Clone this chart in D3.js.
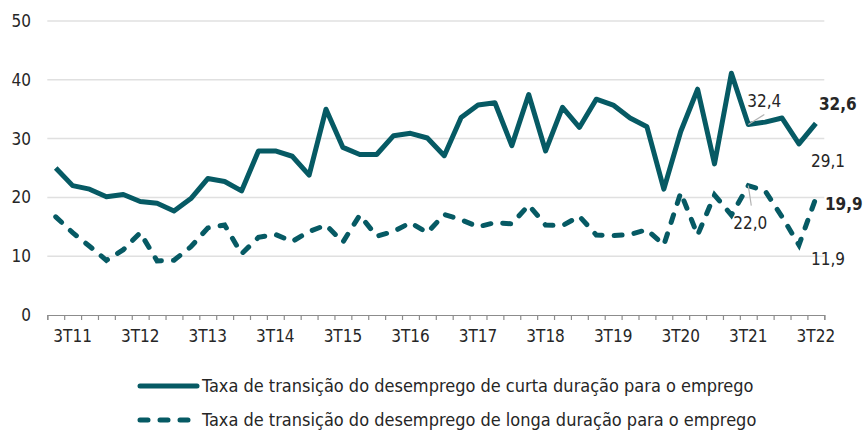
<!DOCTYPE html>
<html>
<head>
<meta charset="utf-8">
<script src="https://cdn.jsdelivr.net/npm/d3@7"></script>
<style>
	body { margin: 0; background: #fff; }
	text { font-family: "DejaVu Sans Condensed", "DejaVu Sans", sans-serif; font-stretch: condensed; fill: #262626; }
</style>
</head>
<body>
<svg id="chart" width="865" height="432"></svg>
<script>
var quarters = ["2T11","3T11","4T11","1T12","2T12","3T12","4T12","1T13","2T13","3T13","4T13","1T14",
	"2T14","3T14","4T14","1T15","2T15","3T15","4T15","1T16","2T16","3T16","4T16","1T17",
	"2T17","3T17","4T17","1T18","2T18","3T18","4T18","1T19","2T19","3T19","4T19","1T20",
	"2T20","3T20","4T20","1T21","2T21","3T21","4T21","1T22","2T22","3T22"];

var curta = [25.0, 22.0, 21.4, 20.1, 20.5, 19.3, 19.0, 17.7, 19.8, 23.2, 22.7, 21.1,
	27.9, 27.9, 27.0, 23.8, 35.0, 28.5, 27.3, 27.3, 30.5, 30.9, 30.1, 27.1,
	33.6, 35.7, 36.1, 28.8, 37.5, 27.9, 35.3, 31.9, 36.7, 35.7, 33.5, 32.0,
	21.4, 31.2, 38.4, 25.7, 41.1, 32.4, 32.8, 33.5, 29.1, 32.6];

var longa = [16.7, 14.0, 11.7, 9.3, 11.1, 14.0, 9.2, 9.3, 11.6, 14.8, 15.3, 10.4,
	13.2, 13.7, 12.5, 14.2, 15.3, 12.4, 17.0, 13.4, 14.2, 15.7, 14.0, 17.1,
	16.2, 15.0, 15.7, 15.5, 18.7, 15.3, 15.2, 16.8, 13.6, 13.5, 13.7, 14.5,
	11.9, 20.8, 13.6, 20.4, 17.0, 22.0, 21.1, 16.7, 11.9, 19.9];

var xLabels = ["3T11","3T12","3T13","3T14","3T15","3T16","3T17","3T18","3T19","3T20","3T21","3T22"];
var yTicks = [0, 10, 20, 30, 40, 50];

var seriesNames = ["Taxa de transição do desemprego de curta duração para o emprego",
	"Taxa de transição do desemprego de longa duração para o emprego"];

// labelled points: [series, quarter, bold]
var notes = [
	["curta", "3T21", false],
	["curta", "2T22", false],
	["curta", "3T22", true],
	["longa", "3T21", false],
	["longa", "2T22", false],
	["longa", "3T22", true]
];

var color = "#065a64";
var svg = d3.select("#chart");

var x = d3.scaleBand().domain(quarters).range([47.3, 824.3]);
var xi = d3.scaleLinear().domain([0, quarters.length]).range([47.3, 824.3]);
var y = d3.scaleLinear().domain([0, 50]).range([315, 21]);
function cx(q) { return x(q) + x.bandwidth() / 2; }

// grid
svg.append("g").selectAll("line")
	.data(yTicks.filter(function(d) { return d > 0; }))
	.enter().append("line")
	.attr("x1", 47.3).attr("x2", 824.3)
	.attr("y1", function(d) { return y(d); }).attr("y2", function(d) { return y(d); })
	.style("stroke", "#e0e0e0").style("stroke-width", 1.5);

// y labels
svg.append("g").selectAll("text")
	.data(yTicks).enter().append("text")
	.attr("x", 31).attr("y", function(d) { return y(d) + 6; })
	.attr("text-anchor", "end")
	.style("font-size", "17px")
	.text(function(d) { return d; });

// x axis ticks
var tickAxis = svg.append("g")
	.attr("transform", "translate(0,315)")
	.call(d3.axisBottom(xi).tickValues(d3.range(quarters.length + 1)).tickFormat("").tickSize(5).tickSizeOuter(5));
tickAxis.selectAll("path, line").style("stroke", "#8c8c8c").style("stroke-width", 1.2);

var labelAxis = svg.append("g")
	.attr("transform", "translate(0,315)")
	.call(d3.axisBottom(x).tickValues(xLabels).tickSize(0).tickPadding(15));
labelAxis.select(".domain").remove();
labelAxis.selectAll("text").style("font-size", "17px").style("fill", "#262626")
	.style("font-family", "\"DejaVu Sans Condensed\", \"DejaVu Sans\", sans-serif");

// lines
var line = d3.line()
	.x(function(d, i) { return cx(quarters[i]); })
	.y(function(d) { return y(d); });

svg.append("path").datum(curta)
	.attr("d", line)
	.style("fill", "none").style("stroke", color).style("stroke-width", 5)
	.style("stroke-linejoin", "round");

svg.append("path").datum(longa)
	.attr("d", line)
	.style("fill", "none").style("stroke", color).style("stroke-width", 5)
	.style("stroke-linecap", "round")
	.style("stroke-dasharray", "8,12");

// annotations
var series = { curta: curta, longa: longa };
var offsets = {
	"curta3T21": [16, -17, 16, -10, 1],
	"curta2T22": [29, 23, 0, 0, 0],
	"curta3T22": [22, -13, 0, 0, 0],
	"longa3T21": [2, 43, 3, 20, 1],
	"longa2T22": [29, 20, 0, 0, 0],
	"longa3T22": [28, 12, 0, 0, 0]
};
notes.forEach(function(n) {
	var v = series[n[0]][quarters.indexOf(n[1])];
	var px = cx(n[1]), py = y(v);
	var o = offsets[n[0] + n[1]];
	if (o[4]) {
		svg.append("line")
			.attr("x1", px).attr("y1", py)
			.attr("x2", px + o[2]).attr("y2", py + o[3])
			.style("stroke", "#b3b3b3").style("stroke-width", 1.2);
	}
	svg.append("text")
		.attr("x", px + o[0]).attr("y", py + o[1])
		.attr("text-anchor", "middle")
		.style("font-size", "17px")
		.style("font-weight", n[2] ? "bold" : "normal")
		.text(d3.format(".1f")(v).replace(".", ","));
});

// legend
var legend = svg.append("g").selectAll("g")
	.data(seriesNames).enter().append("g")
	.attr("transform", function(d, i) { return "translate(0," + (386 + i * 34) + ")"; });
legend.append("line")
	.attr("x1", 140).attr("x2", 197).attr("y1", 0).attr("y2", 0)
	.style("stroke", color).style("stroke-width", 5)
	.style("stroke-linecap", "round")
	.style("stroke-dasharray", function(d, i) { return i ? "8,12" : null; });
legend.append("text")
	.attr("x", 202).attr("y", 6)
	.style("font-size", "18px")
	.text(function(d) { return d; });
</script>
</body>
</html>
